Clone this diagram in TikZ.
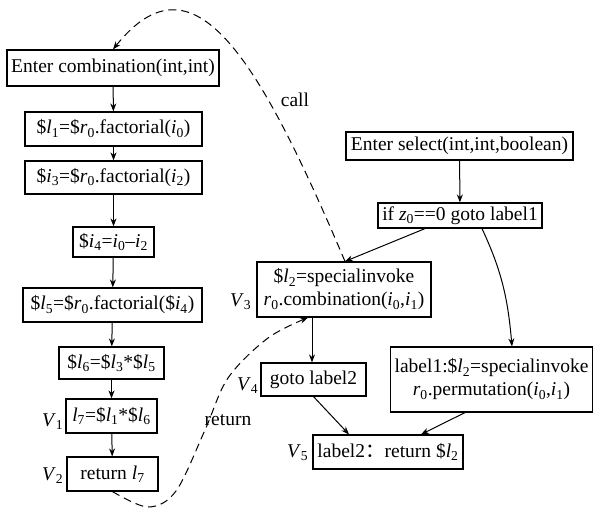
\documentclass[tikz,border=0pt]{standalone}
\usepackage{fontspec}
\setmainfont{Liberation Serif}
\newfontfamily\cjk{Noto Sans CJK SC}
\usetikzlibrary{arrows.meta,calc}
\newcommand\vr[2]{\textit{#1}\textsubscript{#2}}
\begin{document}
\begin{tikzpicture}[x=1pt,y=-1pt,
  font=\fontsize{19.5}{23}\selectfont,
  box/.style={draw,line width=1.2pt,inner sep=0pt,align=center},
  arr/.style={-{Stealth[length=8pt,width=6pt]},line width=1pt},
  dsh/.style={arr,dash pattern=on 8pt off 5pt},
  vlab/.style={inner sep=0pt,anchor=base west}]
\useasboundingbox (0,0) rectangle (593,510);
% left column
\node[box,minimum width=212pt,minimum height=36pt] (ec) at (113,68) {Enter combination(int,int)};
\node[box,minimum width=177pt,minimum height=34pt] (l1) at (113.5,129) {\$\vr{l}{1}=\$\vr{r}{0}.factorial(\vr{i}{0})};
\node[box,minimum width=177pt,minimum height=33pt] (i3) at (113.5,177.5) {\$\vr{i}{3}=\$\vr{r}{0}.factorial(\vr{i}{2})};
\node[box,minimum width=81pt,minimum height=30pt] (i4) at (113.5,242) {\$\vr{i}{4}=\vr{i}{0}–\vr{i}{2}};
\node[box,minimum width=179pt,minimum height=34pt] (l5) at (112.5,305) {\$\vr{l}{5}=\$\vr{r}{0}.factorial(\$\vr{i}{4})};
\node[box,minimum width=105pt,minimum height=32pt] (l6) at (111.5,363) {\$\vr{l}{6}=\$\vr{l}{3}*\$\vr{l}{5}};
\node[box,minimum width=91pt,minimum height=34pt] (l7) at (111.5,416) {\vr{l}{7}=\$\vr{l}{1}*\$\vr{l}{6}};
\node[box,minimum width=91pt,minimum height=34pt] (r7) at (112.5,474) {return \vr{l}{7}};
% right part
\node[box,minimum width=227pt,minimum height=28pt] (es) at (459.5,146) {Enter select(int,int,boolean)};
\node[box,minimum width=164pt,minimum height=25pt] (cond) at (460,215.5) {if \vr{z}{0}==0 goto label1};
\node[box,minimum width=174pt,minimum height=55pt] (l2) at (344,289.5) {\$\vr{l}{2}=specialinvoke\\\vr{r}{0}.combination(\vr{i}{0},\vr{i}{1})};
\node[box,minimum width=105pt,minimum height=33pt] (goto) at (313.5,379.5) {goto label2};
\node[box,minimum width=202pt,minimum height=65pt] (lb1) at (491.5,379.5) {label1:\$\vr{l}{2}=specialinvoke\\\vr{r}{0}.permutation(\vr{i}{0},\vr{i}{1})};
\node[box,minimum width=150pt,minimum height=34pt] (lb2) at (388,452) {label2{\cjk ：}return \$\vr{l}{2}};
% V labels
\node[vlab] (v1) at (42,426) {\textit{V}\textsubscript{1}};
\node[vlab] (v2) at (42,480) {\textit{V}\textsubscript{2}};
\node[vlab] (v3) at (230,306) {\textit{V}\textsubscript{3}};
\node[vlab] (v4) at (237,390) {\textit{V}\textsubscript{4}};
\node[vlab] (v5) at (287,457) {\textit{V}\textsubscript{5}};
% edge labels
\node[inner sep=0pt] (call) at (295,100) {call};
\node[inner sep=0pt] (ret) at (228,420) {return};
% arrows
\draw[arr] (ec) -- (l1);
\draw[arr] (l1) -- (i3);
\draw[arr] (i3) -- (i4);
\draw[arr] (i4) -- (l5);
\draw[arr] (l5) -- (l6);
\draw[arr] (l6) -- (l7);
\draw[arr] (l7) -- (r7);
\draw[arr] (es) -- (cond);
\draw[arr] ($(cond.south)+(-35,0)$) -- ($(l2.north)+(1,0)$);
\draw[arr] ($(cond.south)+(22,0)$) to[out=-65,in=95] ($(lb1.north)+(20.5,0)$);
\draw[arr] ($(l2.south)+(-32,0)$) -- ($(goto.north)+(-1.5,0)$);
\draw[arr] (goto.south) -- ($(lb2.north)+(-39,0)$);
\draw[arr] ($(lb1.south)+(-26.5,0)$) -- ($(lb2.north)+(33,0)$);
% call and return
\draw[dsh] ($(l2.north)+(1,0)$) .. controls (257,54) and (193,-50) .. (ec.north);
\coordinate (rs) at (r7.south);
\coordinate (re) at ($(l2.south)+(-36,0)$);
\draw[dsh] plot[smooth,tension=0.55] coordinates {(rs) (148,507) (176,491) (205,430) (228,378) (268,338) (re)};
\end{tikzpicture}
\end{document}
